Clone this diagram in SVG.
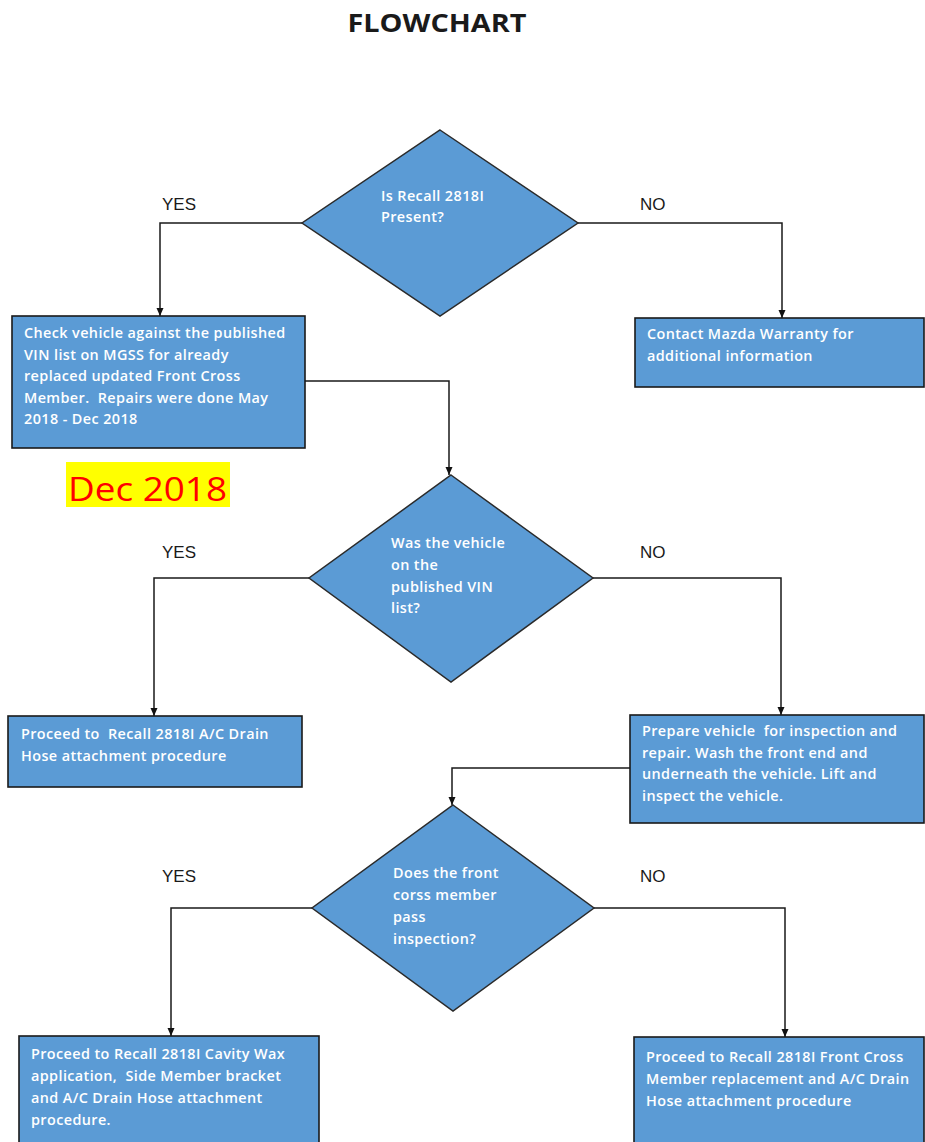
<svg xmlns="http://www.w3.org/2000/svg" width="925" height="1142" viewBox="0 0 925 1142">
<defs>
<marker id="ah" markerWidth="10" markerHeight="10" refX="9" refY="5" orient="auto" markerUnits="userSpaceOnUse">
<path d="M1,1.5 L9,5 L1,8.5 Z" fill="#111"/>
</marker>
<style>
.box{fill:#5B9BD5;stroke:#1a1a1a;stroke-width:1.6}
.dia{fill:#5B9BD5;stroke:#2a2a2a;stroke-width:1.5}
.t{font-family:"Open Sans","Liberation Sans",sans-serif;font-weight:600;font-size:14.4px;letter-spacing:0.4px;fill:#ffffff;white-space:pre}
.lbl{font-family:"Liberation Sans",Arial,sans-serif;font-size:17px;fill:#1a1a1a}
.con{fill:none;stroke:#1a1a1a;stroke-width:1.5;marker-end:url(#ah)}
</style>
</defs>
<rect width="925" height="1142" fill="#ffffff"/>
<text x="437" y="32" text-anchor="middle" font-family="'Open Sans','Liberation Sans',sans-serif" font-weight="700" font-size="25" fill="#1a1a1a" textLength="179" lengthAdjust="spacingAndGlyphs">FLOWCHART</text>

<g id="connectors">
<path class="con" d="M302,223 H160 V316"/>
<path class="con" d="M578,223 H782 V318"/>
<path class="con" d="M305,381 H449 V475"/>
<path class="con" d="M309,578 H154 V716"/>
<path class="con" d="M593,578 H781 V715"/>
<path class="con" d="M630,768 H452 V805"/>
<path class="con" d="M312,908 H171 V1036"/>
<path class="con" d="M594,908 H785 V1037"/>
</g>

<g id="labels">
<text class="lbl" x="162" y="210">YES</text>
<text class="lbl" x="640" y="210">NO</text>
<text class="lbl" x="162" y="558">YES</text>
<text class="lbl" x="640" y="558">NO</text>
<text class="lbl" x="162" y="882">YES</text>
<text class="lbl" x="640" y="882">NO</text>
</g>

<g id="d1">
<polygon class="dia" points="440,130 578,223 440,316 302,223"/>
<text class="t"><tspan x="381" y="201">Is Recall 2818I</tspan><tspan x="381" y="222">Present?</tspan></text>
</g>

<g id="b1">
<rect class="box" x="12" y="316" width="293" height="132"/>
<text class="t" xml:space="preserve"><tspan x="24" y="338">Check vehicle against the published</tspan><tspan x="24" y="359.5">VIN list on MGSS for already</tspan><tspan x="24" y="381">replaced updated Front Cross</tspan><tspan x="24" y="402.5">Member.  Repairs were done May</tspan><tspan x="24" y="424">2018 - Dec 2018</tspan></text>
</g>

<g id="b2">
<rect class="box" x="635" y="318" width="289" height="69"/>
<text class="t"><tspan x="647" y="339">Contact Mazda Warranty for</tspan><tspan x="647" y="361">additional information</tspan></text>
</g>

<g id="note">
<rect x="66" y="462" width="164" height="45" fill="#FFFF00"/>
<text x="68" y="501" font-family="'Open Sans','Liberation Sans',sans-serif" font-size="33" fill="#FF0000" textLength="159" lengthAdjust="spacingAndGlyphs">Dec 2018</text>
</g>

<g id="d2">
<polygon class="dia" points="451,475 593,578 451,682 309,578"/>
<text class="t"><tspan x="391" y="548">Was the vehicle</tspan><tspan x="391" y="570">on the</tspan><tspan x="391" y="592">published VIN</tspan><tspan x="391" y="613">list?</tspan></text>
</g>

<g id="b3">
<rect class="box" x="8" y="716" width="294" height="71"/>
<text class="t" xml:space="preserve"><tspan x="21" y="739">Proceed to  Recall 2818I A/C Drain</tspan><tspan x="21" y="761">Hose attachment procedure</tspan></text>
</g>

<g id="b4">
<rect class="box" x="630" y="715" width="294" height="108"/>
<text class="t" xml:space="preserve"><tspan x="642" y="736">Prepare vehicle  for inspection and</tspan><tspan x="642" y="757.5">repair. Wash the front end and</tspan><tspan x="642" y="779">underneath the vehicle. Lift and</tspan><tspan x="642" y="800.5">inspect the vehicle.</tspan></text>
</g>

<g id="d3">
<polygon class="dia" points="453,805 594,908 453,1011 312,908"/>
<text class="t"><tspan x="393" y="878">Does the front</tspan><tspan x="393" y="900">corss member</tspan><tspan x="393" y="922">pass</tspan><tspan x="393" y="944">inspection?</tspan></text>
</g>

<g id="b5">
<rect class="box" x="19" y="1036" width="300" height="120"/>
<text class="t" xml:space="preserve"><tspan x="31" y="1059">Proceed to Recall 2818I Cavity Wax</tspan><tspan x="31" y="1081">application,  Side Member bracket</tspan><tspan x="31" y="1103">and A/C Drain Hose attachment</tspan><tspan x="31" y="1125">procedure.</tspan></text>
</g>

<g id="b6">
<rect class="box" x="634" y="1037" width="290" height="120"/>
<text class="t"><tspan x="646" y="1062">Proceed to Recall 2818I Front Cross</tspan><tspan x="646" y="1084">Member replacement and A/C Drain</tspan><tspan x="646" y="1106">Hose attachment procedure</tspan></text>
</g>
</svg>
